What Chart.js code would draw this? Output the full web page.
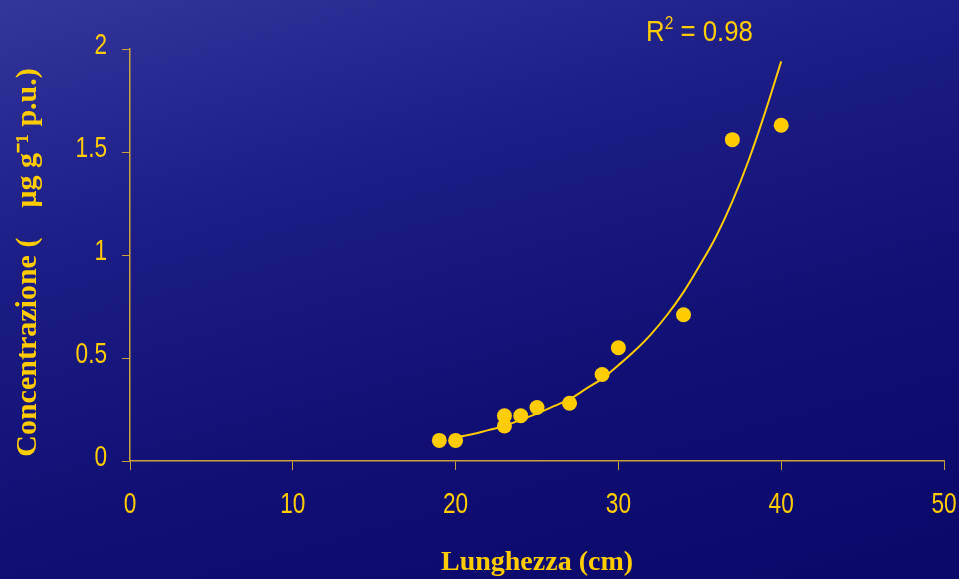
<!DOCTYPE html>
<html>
<head>
<meta charset="utf-8">
<script src="https://cdn.jsdelivr.net/npm/chart.js@4.4.1/dist/chart.umd.min.js"></script>
<style>
  html, body { margin: 0; padding: 0; }
  body {
    width: 959px; height: 579px; overflow: hidden; position: relative;
    background: linear-gradient(165deg, #34369c 0%, #1d1e86 30%, #110f74 65%, #0a0868 100%);
  }
  #wrap { position: absolute; left: 0; top: 0; width: 959px; height: 579px; }
  #r2 {
    position: absolute; left: 646px; top: 14px;
    font-family: "Liberation Sans", Arial, sans-serif; font-size: 30px; color: #ffcc00;
    transform: scaleX(0.86); transform-origin: left top; white-space: nowrap;
  }
  #r2 sup { font-size: 18px; vertical-align: 12px; line-height: 0; }
</style>
</head>
<body>
<div id="wrap"><canvas id="myChart" width="959" height="579"></canvas></div>
<div id="r2">R<sup>2</sup> = 0.98</div>
<script>
"use strict";

// measured points
var lengthCm = [19, 20, 23, 23, 24, 25, 27, 29, 30, 34, 37, 40];
var concentration = [0.10, 0.10, 0.22, 0.17, 0.22, 0.26, 0.28, 0.42, 0.55, 0.71, 1.56, 1.63];

// trend line
var trendX = [20, 21, 22, 23, 24, 25, 26, 27, 28, 29, 30, 31, 32, 33, 34, 35, 36, 37, 38, 39, 40];
var trendY = [0.115, 0.13, 0.15, 0.17, 0.20, 0.23, 0.265, 0.30, 0.35, 0.40, 0.465, 0.535, 0.615, 0.71, 0.82, 0.95, 1.09, 1.26, 1.46, 1.69, 1.94];

var xTicks = [0, 10, 20, 30, 40, 50];
var yTicks = [0, 0.5, 1, 1.5, 2];

var yellow = "#ffcc00";
var axisColor = "#c9a33a";
var tickFontCss = "29px 'Liberation Sans', Arial, sans-serif";
var titleFont = { family: "'Liberation Serif', 'Times New Roman', serif", size: 28, weight: "bold", lineHeight: 1.0 };

var points = lengthCm.map(function (x, i) { return { x: x, y: concentration[i] }; });
var trend = trendX.map(function (x, i) { return { x: x, y: trendY[i] }; });

// tick labels in the squeezed look of the original
var narrowTicks = {
    id: "narrowTicks",
    afterDraw: function (chart) {
        var c = chart.ctx;
        var xs = chart.scales.x;
        var ys = chart.scales.y;
        c.save();
        c.fillStyle = yellow;
        c.font = tickFontCss;
        c.textBaseline = "alphabetic";
        xTicks.forEach(function (v) {
            c.save();
            c.translate(xs.getPixelForValue(v), xs.top + 52);
            c.scale(0.78, 1);
            c.textAlign = "center";
            c.fillText(String(v), 0, 0);
            c.restore();
        });
        yTicks.forEach(function (v) {
            c.save();
            c.translate(ys.right - 23, ys.getPixelForValue(v) + 4.5);
            c.scale(0.78, 1);
            c.textAlign = "right";
            c.fillText(String(v), 0, 0);
            c.restore();
        });
        c.restore();
    }
};

var ctx = document.getElementById("myChart");

new Chart(ctx, {
    type: "scatter",
    data: {
        datasets: [
            {
                label: "trend",
                data: trend,
                showLine: true,
                borderColor: yellow,
                borderWidth: 2,
                pointRadius: 0,
                tension: 0.4,
                fill: false
            },
            {
                label: "Concentrazione",
                data: points,
                backgroundColor: yellow,
                borderColor: yellow,
                pointRadius: 7.5,
                pointBorderWidth: 0
            }
        ]
    },
    options: {
        responsive: false,
        animation: false,
        layout: { padding: { top: 49, right: 15, left: 0, bottom: 0 } },
        plugins: { legend: { display: false }, tooltip: { enabled: false } },
        scales: {
            x: {
                type: "linear",
                min: 0,
                max: 50,
                afterBuildTicks: function (scale) {
                    scale.ticks = xTicks.map(function (v) { return { value: v }; });
                },
                afterFit: function (scale) { scale.height = 118; },
                grid: { drawOnChartArea: false, drawTicks: true, tickLength: 9, color: axisColor },
                border: { color: axisColor, width: 1.5 },
                ticks: { display: false },
                title: {
                    display: true,
                    text: "Lunghezza (cm)",
                    color: yellow,
                    font: titleFont,
                    padding: { top: 0, bottom: 2 }
                }
            },
            y: {
                type: "linear",
                min: 0,
                max: 2,
                afterBuildTicks: function (scale) {
                    scale.ticks = yTicks.map(function (v) { return { value: v }; });
                },
                afterFit: function (scale) { scale.width = 130; },
                grid: { drawOnChartArea: false, drawTicks: true, tickLength: 8, color: axisColor },
                border: { color: axisColor, width: 1.5 },
                ticks: { display: false },
                title: {
                    display: true,
                    text: "Concentrazione (    \u03bcg g\u207b\u00b9 p.u.)  ",
                    color: yellow,
                    font: { family: titleFont.family, size: 30, weight: "bold" },
                    padding: { top: 10, bottom: 0 }
                }
            }
        }
    },
    plugins: [narrowTicks]
});
</script>
</body>
</html>
